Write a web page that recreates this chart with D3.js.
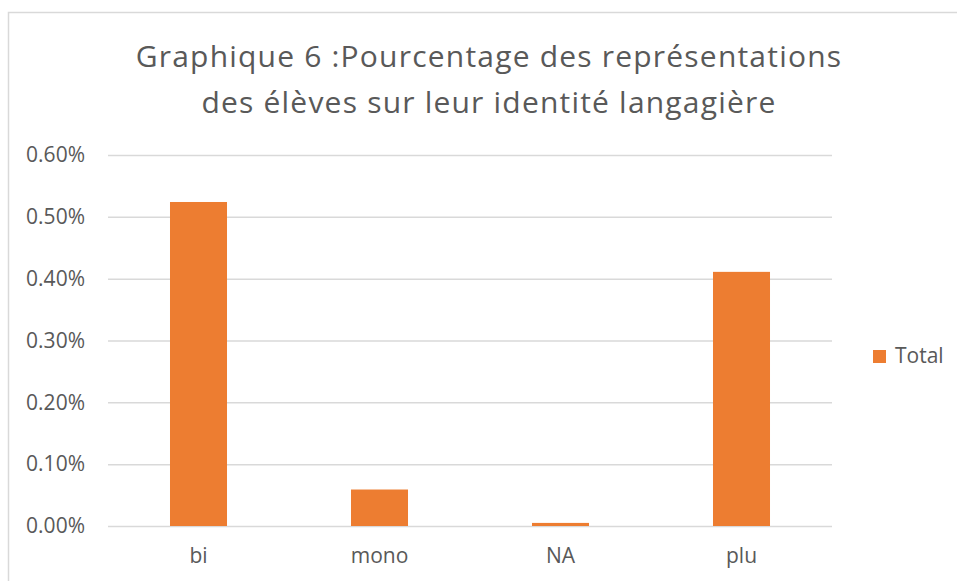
<!DOCTYPE html>
<html>
<head>
<meta charset="utf-8">
<script src="https://cdn.jsdelivr.net/npm/d3@7"></script>
<style>
  body { margin: 0; background: #fff; }
  svg { display: block; font-family: "Open Sans", sans-serif; }
</style>
</head>
<body>
<script>
// data
var categories = ["bi", "mono", "NA", "plu"];
var totals = [0.00524, 0.00059, 0.00005, 0.00411];
var yTicks = [0, 0.001, 0.002, 0.003, 0.004, 0.005, 0.006];
var titleLines = ["Graphique 6 :Pourcentage des représentations", "des élèves sur leur identité langagière"];
var seriesName = "Total";

var width = 957, height = 581;
var margin = {top: 155, right: 125, bottom: 55, left: 108};
var textColor = "#595959", gridColor = "#d9d9d9", barColor = "#ed7d31";

var svg = d3.select("body").append("svg")
    .attr("width", width)
    .attr("height", height);

// chart frame
svg.append("rect")
    .attr("x", 8.5).attr("y", 12.5)
    .attr("width", width).attr("height", height)
    .attr("fill", "none")
    .attr("stroke", gridColor)
    .attr("stroke-width", 1.5);

svg.append("g").selectAll("text")
    .data(titleLines)
  .enter().append("text")
    .attr("x", 489)
    .attr("y", function(d, i) { return 67 + i * 46; })
    .attr("text-anchor", "middle")
    .attr("fill", textColor)
    .style("font-size", "30px")
    .style("letter-spacing", "1.2px")
    .text(function(d) { return d; });

var plotW = width - margin.left - margin.right,
    plotH = height - margin.top - margin.bottom;

var x = d3.scaleBand().domain(categories).range([0, plotW]).paddingInner(0.685).paddingOuter(0.3425),
    y = d3.scaleLinear().domain([0, 0.006]).range([plotH, 0]);

var g = svg.append("g")
    .attr("transform", "translate(" + margin.left + "," + margin.top + ")");

// gridlines + y labels
g.append("g")
    .call(d3.axisLeft(y).tickValues(yTicks).tickSize(-plotW).tickFormat(d3.format(".2%")))
    .call(function(a) { a.select(".domain").remove(); })
    .call(function(a) {
      a.selectAll("line").attr("stroke", gridColor).attr("stroke-width", 1.5);
      a.selectAll("text").attr("x", -23).attr("fill", textColor);
    })
    .attr("font-family", null).attr("font-size", 21);

g.selectAll(".bar")
    .data(totals)
  .enter().append("rect")
    .attr("class", "bar")
    .attr("fill", barColor)
    .attr("x", function(d, i) { return x(categories[i]); })
    .attr("y", function(d) { return y(d); })
    .attr("width", x.bandwidth())
    .attr("height", function(d) { return plotH - y(d); });

g.append("g")
    .attr("transform", "translate(0," + plotH + ")")
    .call(d3.axisBottom(x).tickSize(0).tickPadding(22))
    .call(function(a) { a.select(".domain").remove(); })
    .call(function(a) { a.selectAll("text").attr("fill", textColor); })
    .attr("font-family", null).attr("font-size", 21);

// legend
var legend = svg.append("g").attr("transform", "translate(873,350)");
legend.append("rect").attr("width", 13).attr("height", 13).attr("fill", barColor);
legend.append("text")
    .attr("x", 22).attr("y", 13)
    .attr("fill", textColor)
    .style("font-size", "21px")
    .text(seriesName);
</script>
</body>
</html>
